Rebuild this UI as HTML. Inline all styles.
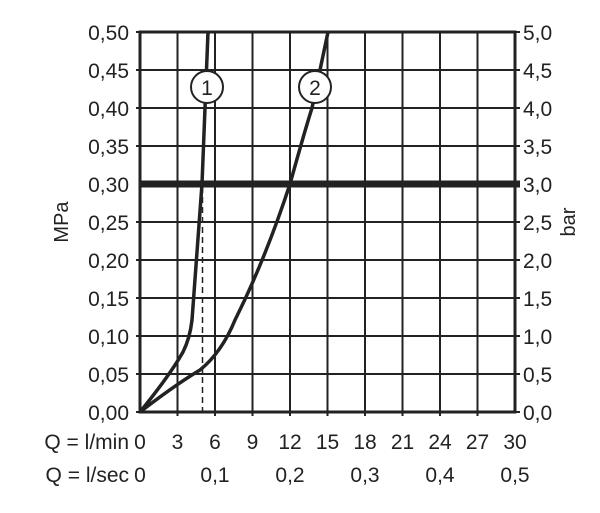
<!DOCTYPE html><html><head><style>body{margin:0;background:#fff}</style></head><body>
<svg width="600" height="508" viewBox="0 0 600 508" xmlns="http://www.w3.org/2000/svg" font-family="Liberation Sans, sans-serif" font-size="21" fill="#222">
<g stroke="#222" stroke-width="2">
<line x1="177.5" y1="32" x2="177.5" y2="416"/><line x1="215" y1="32" x2="215" y2="416"/><line x1="252.5" y1="32" x2="252.5" y2="416"/><line x1="290" y1="32" x2="290" y2="416"/><line x1="327.5" y1="32" x2="327.5" y2="416"/><line x1="365" y1="32" x2="365" y2="416"/><line x1="402.5" y1="32" x2="402.5" y2="416"/><line x1="440" y1="32" x2="440" y2="416"/><line x1="477.5" y1="32" x2="477.5" y2="416"/>
<line x1="136" y1="70" x2="520" y2="70"/><line x1="136" y1="108" x2="520" y2="108"/><line x1="136" y1="146" x2="520" y2="146"/><line x1="136" y1="222" x2="520" y2="222"/><line x1="136" y1="260" x2="520" y2="260"/><line x1="136" y1="298" x2="520" y2="298"/><line x1="136" y1="336" x2="520" y2="336"/><line x1="136" y1="374" x2="520" y2="374"/>
<line x1="136" y1="32" x2="520" y2="32"/><line x1="136" y1="412" x2="520" y2="412"/>
</g>
<rect x="140" y="32" width="375" height="380" fill="none" stroke="#222" stroke-width="3"/>
<line x1="140" y1="184" x2="520" y2="184" stroke="#222" stroke-width="7"/>
<g stroke="#222" stroke-width="1.5" stroke-dasharray="6,4"><line x1="202.5" y1="187" x2="202.5" y2="412"/><line x1="290" y1="187" x2="290" y2="412"/></g>
<g fill="none" stroke="#222" stroke-width="3.5">
<path d="M140,412 Q170,375 183,352 Q190,338 192,320 L202,184 L208,32"/>
<path d="M140,412 Q175,385 200,370 Q222,352 235,320 Q265,260 290,184 Q305,130 312,108 L328,32"/>
</g>
<circle cx="207" cy="87" r="16" fill="#fff" stroke="#222" stroke-width="2"/>
<circle cx="315" cy="87" r="16" fill="#fff" stroke="#222" stroke-width="2"/>
<text x="207" y="95" text-anchor="middle">1</text><text x="315" y="95" text-anchor="middle">2</text>
<g text-anchor="end">
<text x="129" y="40">0,50</text><text x="129" y="78">0,45</text><text x="129" y="116">0,40</text><text x="129" y="154">0,35</text><text x="129" y="192">0,30</text><text x="129" y="230">0,25</text><text x="129" y="268">0,20</text><text x="129" y="306">0,15</text><text x="129" y="344">0,10</text><text x="129" y="382">0,05</text><text x="129" y="420">0,00</text>
</g>
<g>
<text x="523" y="40">5,0</text><text x="523" y="78">4,5</text><text x="523" y="116">4,0</text><text x="523" y="154">3,5</text><text x="523" y="192">3,0</text><text x="523" y="230">2,5</text><text x="523" y="268">2,0</text><text x="523" y="306">1,5</text><text x="523" y="344">1,0</text><text x="523" y="382">0,5</text><text x="523" y="420">0,0</text>
</g>
<text transform="translate(68,222) rotate(-90)" text-anchor="middle" font-size="20">MPa</text>
<text transform="translate(575,222) rotate(-90)" text-anchor="middle" font-size="20">bar</text>
<g text-anchor="middle">
<text x="140" y="449">0</text><text x="177.5" y="449">3</text><text x="215" y="449">6</text><text x="252.5" y="449">9</text><text x="290" y="449">12</text><text x="327.5" y="449">15</text><text x="365" y="449">18</text><text x="402.5" y="449">21</text><text x="440" y="449">24</text><text x="477.5" y="449">27</text><text x="515" y="449">30</text>
<text x="140" y="482">0</text><text x="215" y="482">0,1</text><text x="290" y="482">0,2</text><text x="365" y="482">0,3</text><text x="440" y="482">0,4</text><text x="515" y="482">0,5</text>
</g>
<text x="129" y="449" text-anchor="end">Q = l/min</text>
<text x="129" y="482" text-anchor="end">Q = l/sec</text>
</svg>
</body></html>
